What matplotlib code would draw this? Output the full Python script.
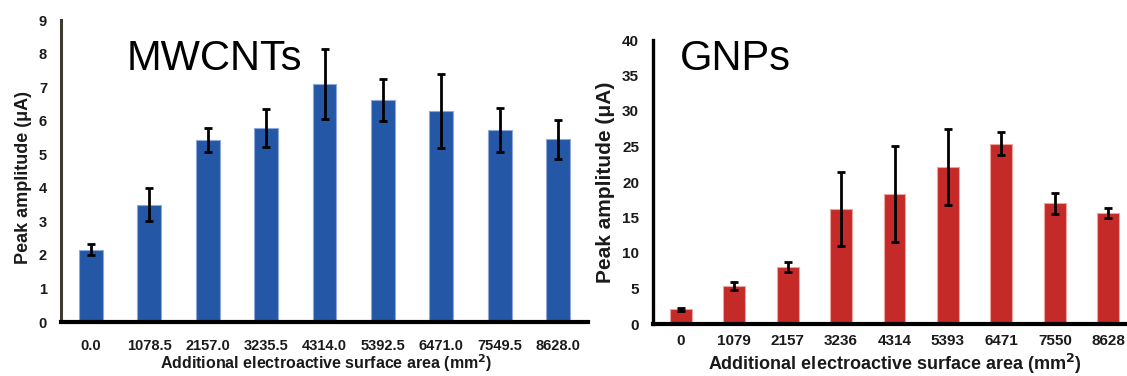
import matplotlib
matplotlib.use("Agg")
import matplotlib.pyplot as plt
import numpy as np

# MWCNTs
mw_labels = ["0.0", "1078.5", "2157.0", "3235.5", "4314.0", "5392.5", "6471.0", "7549.5", "8628.0"]
mw_values = [2.15, 3.50, 5.42, 5.79, 7.10, 6.62, 6.29, 5.72, 5.44]
mw_errors = [0.16, 0.50, 0.36, 0.57, 1.05, 0.62, 1.10, 0.66, 0.58]

# GNPs
gnp_labels = ["0", "1079", "2157", "3236", "4314", "5393", "6471", "7550", "8628"]
gnp_values = [2.1, 5.3, 8.0, 16.2, 18.3, 22.1, 25.4, 17.0, 15.6]
gnp_errors = [0.2, 0.55, 0.7, 5.2, 6.8, 5.35, 1.65, 1.5, 0.7]

plt.rcParams["font.family"] = ["Liberation Sans", "DejaVu Sans"]

W, H = 1127, 376
fig = plt.figure(figsize=(W / 100, H / 100), dpi=100)


def panel(rect, labels, values, errors, ylim, yticks, color, edge, title,
          title_xy, tick_size, label_size, xlabel_size, ylabel_xy, xlabel_xy,
          xlim, xpad, left_spine_color, bottom_lw, left_lw):
    ax = fig.add_axes(rect)
    x = np.arange(len(values))
    ax.bar(x, values, width=0.41, color=color, edgecolor=edge, linewidth=0.8,
           zorder=2)
    ax.errorbar(x, values, yerr=errors, fmt="none", ecolor="black",
                elinewidth=2.0, capsize=3.2, capthick=2.0, zorder=3)
    ax.set_xlim(*xlim)
    ax.set_ylim(*ylim)
    ax.set_yticks(yticks)
    ax.set_xticks(x)
    ax.set_xticklabels(labels)
    for s in ("top", "right"):
        ax.spines[s].set_visible(False)
    ax.spines["left"].set_color(left_spine_color)
    ax.spines["left"].set_linewidth(left_lw)
    ax.spines["bottom"].set_color("black")
    ax.spines["bottom"].set_linewidth(bottom_lw)
    ax.spines["bottom"].set_zorder(4)
    ax.tick_params(axis="both", length=0, labelsize=tick_size)
    ax.tick_params(axis="y", pad=10)
    ax.tick_params(axis="x", pad=xpad)
    for t in ax.get_xticklabels() + ax.get_yticklabels():
        t.set_fontweight("bold")
        t.set_color("#1a1a1a")
    ax.set_ylabel("Peak amplitude (μA)", fontsize=label_size,
                  fontweight="bold", color="#1a1a1a")
    ax.yaxis.set_label_coords(*ylabel_xy)
    ax.set_xlabel("Additional electroactive surface area (mm$^\\mathbf{2}$)",
                  fontsize=xlabel_size, fontweight="bold", color="#1a1a1a")
    ax.xaxis.set_label_coords(*xlabel_xy)
    ax.text(title_xy[0], title_xy[1], title, transform=fig.transFigure,
            fontsize=30, ha="left", va="baseline", color="black")
    ax.patch.set_alpha(0)
    return ax


left_rect = [61 / W, (H - 322) / H, (588 - 61) / W, (322 - 20) / H]
right_rect = [653 / W, (H - 324) / H, (W - 653) / W, (324 - 40) / H]

panel(left_rect, mw_labels, mw_values, mw_errors, (0, 9), range(0, 10),
      "#2458a6", "#8ea7d6", "MWCNTs", (127 / W, (H - 70) / H),
      10.5, 13, 11.5, (-0.055, 0.48), (0.503, -0.1), (-0.51, 8.51), 12,
      "#3d3a30", 3.0, 2.2)

panel(right_rect, gnp_labels, gnp_values, gnp_errors, (0, 40), range(0, 41, 5),
      "#c42a27", "#eaa49c", "GNPs", (680 / W, (H - 70) / H),
      11, 15, 13, (-0.08, 0.5), (0.51, -0.1), (-0.52, 8.35), 7,
      "black", 3.0, 2.4)

fig.savefig("out.png", dpi=100)
